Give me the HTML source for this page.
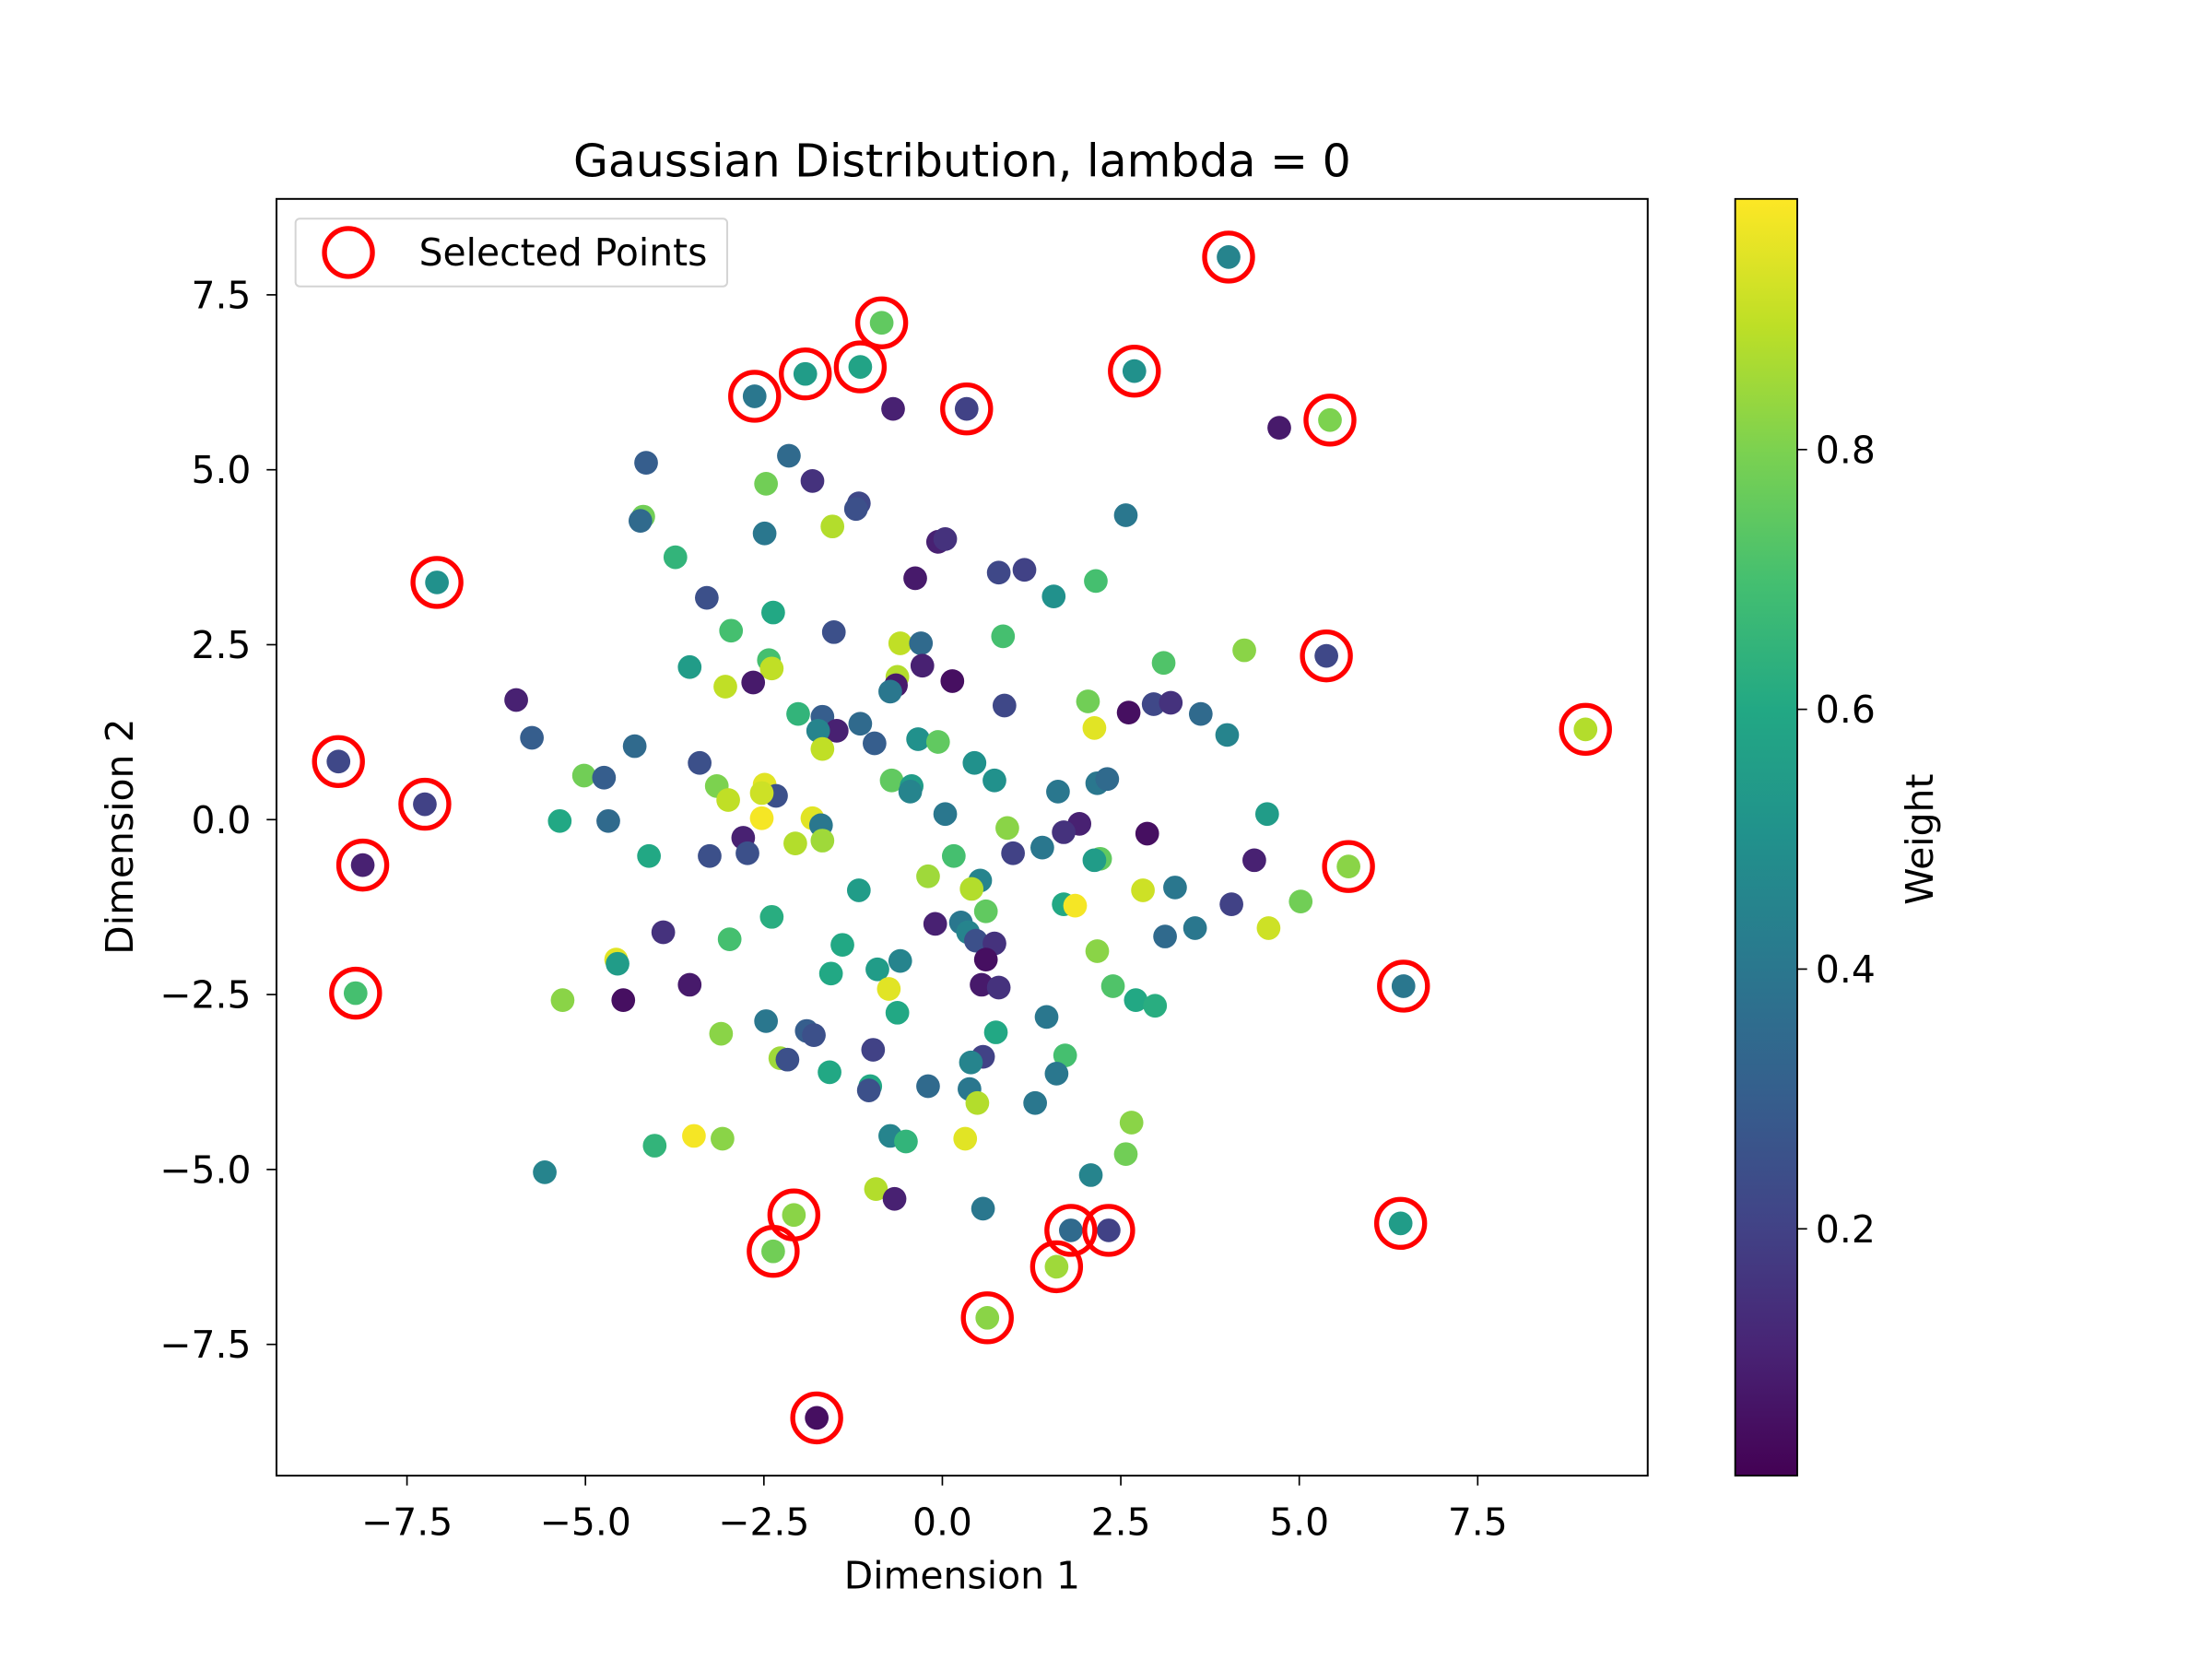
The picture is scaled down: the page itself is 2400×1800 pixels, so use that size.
<!DOCTYPE html>
<html><head><meta charset="utf-8">
<style>
html,body{margin:0;padding:0;background:#fff;}
svg{display:block;font-family:"DejaVu Sans","Liberation Sans",sans-serif;}
</style></head>
<body>
<svg id="chart" width="2400" height="1800" viewBox="0 0 1568 1176" xmlns="http://www.w3.org/2000/svg">
<defs>
<linearGradient id="vir" x1="0" y1="1" x2="0" y2="0">
<stop offset="0" stop-color="#440154"/><stop offset="0.1" stop-color="#482475"/><stop offset="0.2" stop-color="#414487"/><stop offset="0.3" stop-color="#355f8d"/><stop offset="0.4" stop-color="#2a788e"/><stop offset="0.5" stop-color="#21918c"/><stop offset="0.6" stop-color="#22a884"/><stop offset="0.7" stop-color="#44bf70"/><stop offset="0.8" stop-color="#7ad151"/><stop offset="0.9" stop-color="#bddf26"/><stop offset="1" stop-color="#fde725"/>
</linearGradient>
<clipPath id="plotclip"><rect x="196" y="141" width="972" height="905"/></clipPath>
</defs>
<rect width="1568" height="1176" fill="#fff"/>
<text x="682" y="125" font-size="32" text-anchor="middle">Gaussian Distribution, lambda = 0</text>
<g id="points" clip-path="url(#plotclip)"></g>
<g id="selected" clip-path="url(#plotclip)"></g>
<rect x="196" y="141" width="972" height="905" fill="none" stroke="#000" stroke-width="1.3"/>
<g id="xticks"></g><g id="yticks"></g>
<text x="682" y="1126" font-size="26.7" text-anchor="middle">Dimension 1</text>
<text transform="translate(94,593) rotate(-90)" font-size="26.7" text-anchor="middle">Dimension 2</text>
<g>
<rect x="209.5" y="155" width="306" height="48" rx="3" fill="#fff" fill-opacity="0.8" stroke="#d4d4d4" stroke-width="1.3"/>
<circle cx="247" cy="179" r="17" fill="none" stroke="#ff0000" stroke-width="3.5"/>
<text x="297" y="188" font-size="26.7">Selected Points</text>
</g>
<rect x="1230" y="141" width="44" height="905" fill="url(#vir)" stroke="#000" stroke-width="1.2"/>
<g id="cticks"></g>
<text transform="translate(1370,595) rotate(-90)" font-size="26.7" text-anchor="middle">Weight</text>
</svg>
<script>
const ptX=[4.72,-0.69,-4.15,-2.15,-1.82,-2.47,-4.19,-4.23,-1.17,-1.21,-1.54,-2.49,2.57,-0.06,0.04,-3.74,-3.30,-0.38,0.79,1.15,1.56,2.15,-2.96,-2.37,-1.52,0.85,-0.59,-0.30,-3.54,-2.43,-2.39,-0.28,-0.63,-0.65,-0.73,0.14,-2.65,-3.04,-5.97,3.10,4.23,2.04,2.61,2.96,3.20,3.62,3.99,2.13,0.87,-5.75,-4.31,-2.02,-1.68,-1.48,-1.74,-1.15,-0.95,-0.34,-0.06,-1.68,-3.40,0.45,0.73,1.62,2.17,2.31,-5.02,-4.74,-3.16,-2.49,-2.33,-3.00,-0.71,-0.43,-0.45,-2.53,0.04,4.55,-5.36,-4.68,-2.53,-1.82,-1.70,0.91,1.92,1.70,2.87,-2.79,-2.06,-1.68,-2.73,-3.26,-4.11,0.99,1.40,0.16,2.21,2.13,4.37,-0.20,0.53,0.41,2.81,3.26,-1.17,0.61,1.70,1.86,4.05,5.02,-0.10,0.26,0.36,-2.39,-3.91,-2.98,-1.40,0.47,0.73,3.12,3.54,4.57,2.17,0.61,-0.59,-4.57,-4.55,-1.56,-0.91,-3.54,0.55,0.79,-0.75,-5.32,-4.47,2.39,2.71,2.98,-0.63,-2.47,1.46,0.75,-3.10,-1.90,-1.80,-0.97,-2.27,-2.17,0.57,0.40,1.72,1.60,-1.58,-1.01,-1.03,-0.20,0.38,0.49,1.30,2.65,-3.48,-3.08,-4.03,-0.73,-0.51,0.32,2.57,-5.57,2.08,-0.93,-0.67,0.57];
const ptY=[5.60,5.87,5.10,5.20,4.84,4.80,4.33,4.27,4.52,4.44,4.19,4.09,4.35,3.97,4.01,3.75,3.17,3.45,3.53,3.57,3.19,3.41,2.70,2.96,2.68,2.62,2.52,2.52,2.18,2.28,2.16,2.20,2.04,1.92,1.83,1.98,1.96,1.90,1.71,2.24,2.42,1.69,1.53,1.65,1.67,1.51,1.21,1.31,1.63,1.17,1.05,1.51,1.47,1.27,1.27,1.37,1.09,1.15,1.11,1.01,0.81,0.81,0.56,0.40,0.52,0.58,0.63,0.60,0.48,0.50,0.34,0.28,0.56,0.48,0.40,0.38,0.08,0.08,-0.02,-0.02,0.02,0.02,-0.08,-0.12,-0.06,-0.18,-0.20,-0.26,-0.34,-0.30,-0.48,-0.52,-0.52,-0.48,-0.40,-0.52,-0.56,-0.58,-0.58,-0.81,-0.87,-0.99,-1.01,-0.97,-1.01,-1.31,-1.21,-1.23,-1.21,-1.17,-1.49,-1.47,-1.61,-1.39,-1.61,-1.71,-1.79,-1.73,-1.77,-1.67,-1.55,-1.55,-1.88,-2.00,-2.02,-2.00,-2.06,-2.20,-2.14,-2.36,-2.36,-2.40,-2.42,-2.58,-2.58,-2.38,-2.58,-2.66,-2.76,-2.88,-2.82,-3.04,-3.06,-3.02,-3.08,-3.29,-3.41,-3.43,-3.39,-3.47,-3.37,-3.63,-3.61,-3.81,-3.87,-3.81,-3.85,-4.05,-4.05,-4.33,-4.52,-4.56,-4.66,-4.52,-4.60,-4.56,-4.78,-5.04,-5.08,-5.28,-5.42,-5.56];
const ptW=[.08,.1,.3,.35,.15,.78,.78,.35,.22,.25,.88,.4,.4,.1,.15,.65,.25,.08,.22,.2,.5,.7,.7,.6,.25,.7,.9,.35,.55,.7,.9,.1,.88,.08,.4,.05,.08,.9,.1,.72,.82,.78,.05,.22,.15,.35,.45,.95,.22,.3,.35,.65,.3,.1,.45,.35,.3,.5,.75,.9,.25,.5,.5,.4,.4,.35,.78,.3,.8,.95,.25,.9,.75,.55,.45,.92,.4,.55,.6,.35,.98,.95,.4,.82,.1,.15,.05,.1,.88,.85,.25,.25,.6,.2,.4,.7,.75,.55,.1,.85,.45,.88,.92,.4,.55,.75,.6,.98,.2,.78,.1,.4,.45,.62,.15,.7,.6,.25,.15,.35,.4,.92,.82,.05,.45,.95,.55,.6,.55,.08,.08,.15,.95,.82,.05,.72,.6,.62,.6,.4,.4,.6,.82,.3,.25,.2,.85,.25,.2,.45,.7,.4,.6,.6,.25,.35,.4,.88,.4,.82,.98,.82,.65,.45,.65,.95,.78,.45,.45,.88,.1,.4];
const selX=[4.01,-0.85,-1.92,-1.15,-2.63,0.34,2.69,5.43,-7.08,5.38,9.01,-8.46,-7.25,-8.12,5.69,-8.22,6.46,-2.08,-2.37,1.80,2.33,1.60,6.42,0.63,-1.76];
const selY=[8.04,7.10,6.37,6.47,6.05,5.87,6.41,5.71,3.39,2.34,1.29,0.83,0.22,-0.65,-0.67,-2.48,-2.38,-5.65,-6.17,-5.87,-5.87,-6.39,-5.77,-7.12,-8.55];
const selW=[.45,.75,.55,.58,.4,.2,.5,.8,.5,.22,.88,.22,.2,.1,.82,.7,.4,.82,.78,.35,.2,.85,.55,.82,.05];
const xTicks=[-7.5,-5.0,-2.5,0.0,2.5,5.0,7.5];
const yTicks=[-7.5,-5.0,-2.5,0.0,2.5,5.0,7.5];
const cTicks=[0.2,0.4,0.6,0.8];
const wMin=0.01, wMax=0.993;

const NS="http://www.w3.org/2000/svg";
function sx(v){return 668+v*50.6;}
function sy(v){return 581-v*49.6;}
function sc(v){return 1046-(v-wMin)/(wMax-wMin)*905;}
const stops=[[68,1,84],[72,36,117],[65,68,135],[53,95,141],[42,120,142],[33,145,140],[34,168,132],[68,191,112],[122,209,81],[189,223,38],[253,231,37]];
function viridis(w){let t=Math.max(0,Math.min(1,(w-wMin)/(wMax-wMin)))*10;let i=Math.min(9,Math.floor(t));let f=t-i;const a=stops[i],b=stops[i+1];return "rgb("+a.map((c,k)=>Math.round(c+(b[k]-c)*f)).join(",")+")";}
function mk(tag,attrs,parent){const e=document.createElementNS(NS,tag);for(const k in attrs)e.setAttribute(k,attrs[k]);parent.appendChild(e);return e;}
const gp=document.getElementById("points");
const gs=document.getElementById("selected");
const allX=ptX.concat(selX),allY=ptY.concat(selY),allW=ptW.concat(selW);
for(let i=0;i<allX.length;i++){
  const c=mk("circle",{cx:sx(allX[i]),cy:sy(allY[i]),r:8.4,fill:viridis(allW[i])},gp);
  
  
}
for(let i=0;i<selX.length;i++){
  const c=mk("circle",{cx:sx(selX[i]),cy:sy(selY[i]),r:17,fill:"none",stroke:"#ff0000","stroke-width":3.5},gs);
  
  
}
function lab(v){return v<0?"\u2212"+Math.abs(v).toFixed(1):v.toFixed(1);}
const gx=document.getElementById("xticks");
for(const v of xTicks){
  const l=mk("line",{x1:sx(v),x2:sx(v),y1:1046,y2:1053,stroke:"#000","stroke-width":1.1},gx);
  
  
  const t=mk("text",{x:sx(v),y:1088,"font-size":26.7,"text-anchor":"middle"},gx);
  t.textContent=lab(v);
  
  
}
const gy=document.getElementById("yticks");
for(const v of yTicks){
  const l=mk("line",{x1:189,x2:196,y1:sy(v),y2:sy(v),stroke:"#000","stroke-width":1.1},gy);
  
  
  const t=mk("text",{x:178,y:sy(v)+9.5,"font-size":26.7,"text-anchor":"end"},gy);
  t.textContent=lab(v);
  
  
}
const gc=document.getElementById("cticks");
for(const v of cTicks){
  const l=mk("line",{x1:1274,x2:1281,y1:sc(v),y2:sc(v),stroke:"#000","stroke-width":1.1},gc);
  
  
  const t=mk("text",{x:1287,y:sc(v)+9.5,"font-size":26.7},gc);
  t.textContent=v.toFixed(1);
  
  
}
</script>
</body></html>
